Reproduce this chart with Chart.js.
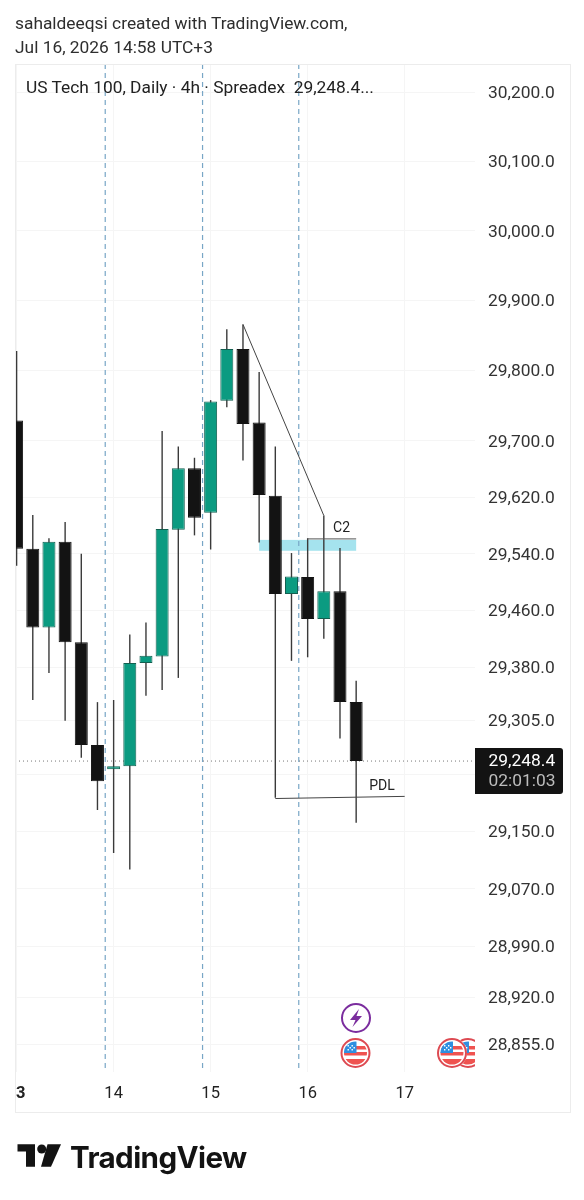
<!DOCTYPE html>
<html>
<head>
<meta charset="utf-8">
<title>US Tech 100</title>
<script src="https://cdn.jsdelivr.net/npm/chart.js@4/dist/chart.umd.min.js"></script>
<style>
  html, body { margin: 0; padding: 0; background: #fff; }
  #page { position: relative; width: 584px; height: 1200px; overflow: hidden; font-family: Roboto, sans-serif; }
  canvas { position: absolute; left: 0; top: 0; }
  .txt { position: absolute; white-space: pre; color: #2e2e2e; font-size: 17.35px; line-height: 20px; }
  #brand { position: absolute; left: 70px; top: 1139px; font-family: Inter, sans-serif; font-weight: 700; font-size: 29.6px; line-height: 36px; color: #131313; letter-spacing: -0.6px; }
  svg { position: absolute; left: 0; top: 0; }
</style>
</head>
<body>
<div id="page">
  <canvas id="chart" width="584" height="1200"></canvas>
  <div class="txt" style="left:15px;top:13px">sahaldeeqsi created with TradingView.com,</div>
  <div class="txt" style="left:15px;top:37px">Jul 16, 2026 14:58 UTC+3</div>
  <div class="txt" style="left:26px;top:77px;color:#222">US Tech 100, Daily · 4h · Spreadex  29,248.4...</div>
  <svg width="584" height="1200">
    <defs>
      <clipPath id="pane"><rect x="15" y="64" width="460" height="1008"/></clipPath>
      <clipPath id="disc"><circle cx="0" cy="0" r="11.5"/></clipPath>
      <g id="flag">
        <circle r="15" fill="#fff"/>
        <circle r="14" fill="none" stroke="#dd4a52" stroke-width="2"/>
        <g clip-path="url(#disc)">
          <rect x="-12" y="-12" width="24" height="24" fill="#fff"/>
          <rect x="-12" y="-7" width="24" height="3.5" fill="#ef5350"/>
          <rect x="-12" y="-1" width="24" height="3.5" fill="#ef5350"/>
          <rect x="-12" y="6" width="24" height="6" fill="#ef5350"/>
          <rect x="-12" y="-12" width="13" height="12" fill="#2f8fe0"/>
          <path d="M-8 -8h1.4v1.4h-1.4zM-4 -8h1.4v1.4h-1.4zM-8 -4h1.4v1.4h-1.4zM-4 -4h1.4v1.4h-1.4zM-6 -6h1.4v1.4h-1.4zM-2 -6h1.4v1.4h-1.4z" fill="#fff"/>
        </g>
      </g>
    </defs>
    <circle cx="356" cy="1018" r="14" fill="#fff" stroke="#7b2d9e" stroke-width="2"/>
    <path d="M359 1009 L350 1020 L355.5 1020 L352.5 1027 L362 1016 L356.5 1016 Z" fill="#7b2d9e"/>
    <g clip-path="url(#pane)">
      <use href="#flag" x="355.5" y="1053"/>
      <use href="#flag" x="468" y="1053"/>
      <use href="#flag" x="452" y="1053"/>
    </g>
    <!-- logo -->
    <path d="M17.5 1144.3 H35 V1166.7 H26 V1151.5 H17.5 Z" fill="#131313"/>
    <circle cx="41.7" cy="1149" r="4.5" fill="#131313"/>
    <path d="M47.5 1144.3 H61 L51 1166.7 H41 Z" fill="#131313"/>
  </svg>
  <div id="brand">TradingView</div>
</div>
<script>
// 4h candles
const opens  = [29729, 29547, 29436, 29557, 29415, 29271, 29237, 29241, 29386, 29395, 29574, 29661, 29598, 29757, 29831, 29726, 29622, 29483, 29507, 29448, 29487, 29331];
const highs  = [29828, 29595, 29562, 29585, 29540, 29331, 29334, 29426, 29443, 29714, 29692, 29676, 29758, 29859, 29866, 29798, 29692, 29541, 29562, 29594, 29548, 29361];
const lows   = [29523, 29334, 29372, 29305, 29253, 29180, 29120, 29097, 29340, 29348, 29365, 29566, 29546, 29748, 29672, 29556, 29197, 29389, 29394, 29420, 29280, 29162];
const closes = [29547, 29436, 29557, 29415, 29271, 29220, 29241, 29386, 29396, 29575, 29661, 29591, 29756, 29831, 29724, 29623, 29483, 29508, 29448, 29487, 29331, 29248.4];

const priceTicks = [30200, 30100, 30000, 29900, 29800, 29700, 29620, 29540, 29460, 29380, 29305, 29230, 29150, 29070, 28990, 28920, 28855];
const hiddenPriceTick = 29230; // sits under the last price tag
const dayTicks = [0, 6, 12, 18, 24];
const dayLabels = ['  3', '14', '15', '16', '17'];
const sessionBreaks = [5.48, 11.5, 17.45];

const lastPrice = 29248.4;
const countdown = '02:01:03';

// Drawings on the chart (bar index / price)
const trendLine = [{ x: 14, y: 29866 }, { x: 19, y: 29594 }];
const c2Line = [{ x: 18, y: 29561 }, { x: 21, y: 29561 }];
const pdlLine = [{ x: 16, y: 29196 }, { x: 24, y: 29199 }];
const zoneX = [15, 21];
const zonePrice = [29559.6, 29544.2];

const xMin = -0.1, xMax = 28.35;
const yMin = 28816.4, yMax = 30240.5;

const GREEN = '#0b9b81', GREEN_EDGE = '#125f50', BLACK = '#131313';

const candleIdx = opens.map((_, i) => i);
const upIdx = candleIdx.filter(i => closes[i] >= opens[i]);
const downIdx = candleIdx.filter(i => closes[i] < opens[i]);

const lineSet = (data, extra) => Object.assign({
    type: 'line', data: data, borderColor: '#444', borderWidth: 1,
    pointRadius: 0, tension: 0, order: 1
}, extra);

// Zone, frame and text labels the library has no element for
const decorations = {
    id: 'decorations',
    beforeDatasetsDraw(chart) {
        const { ctx, scales: { x, y } } = chart;
        ctx.save();
        ctx.fillStyle = '#a5e3ee';
        const left = x.getPixelForValue(zoneX[0]), right = x.getPixelForValue(zoneX[1]);
        const top = y.getPixelForValue(zonePrice[0]), bottom = y.getPixelForValue(zonePrice[1]);
        ctx.fillRect(left, top, right - left, bottom - top);
        ctx.restore();
    },
    afterDraw(chart) {
        const { ctx, chartArea, scales: { x, y } } = chart;
        ctx.save();
        // frame
        ctx.strokeStyle = '#ececec';
        ctx.lineWidth = 1;
        ctx.strokeRect(15.5, 64.5, 555, 1048);

        // drawing labels
        ctx.fillStyle = '#222';
        ctx.font = '14px Roboto';
        ctx.textAlign = 'center';
        ctx.textBaseline = 'middle';
        ctx.fillText('C2', x.getPixelForValue(20.1), y.getPixelForValue(29576));
        ctx.fillText('PDL', x.getPixelForValue(22.6), y.getPixelForValue(29213));

        // last price tag
        const py = y.getPixelForValue(lastPrice);
        ctx.fillStyle = BLACK;
        ctx.beginPath();
        ctx.roundRect(chartArea.right, py - 13, 88, 46, [0, 3, 3, 0]);
        ctx.fill();
        ctx.font = '17.4px Roboto';
        ctx.textAlign = 'left';
        ctx.fillStyle = '#fff';
        ctx.fillText(lastPrice.toLocaleString('en-US', { minimumFractionDigits: 1 }), chartArea.right + 13.5, py + 1);
        ctx.fillStyle = '#bdbdbd';
        ctx.fillText(countdown, chartArea.right + 13.5, py + 21);
        ctx.restore();
    }
};

new Chart(document.getElementById('chart'), {
    type: 'bar',
    data: {
        datasets: [
            lineSet(trendLine, {}),
            lineSet(c2Line, { borderColor: '#555' }),
            lineSet(pdlLine, {}),
            {
                data: upIdx.map(i => ({ x: i, y: [opens[i], closes[i]] })),
                backgroundColor: GREEN, borderColor: GREEN_EDGE, borderWidth: 1,
                borderSkipped: false, barThickness: 13, order: 2
            },
            {
                data: downIdx.map(i => ({ x: i, y: [opens[i], closes[i]] })),
                backgroundColor: BLACK, borderColor: BLACK, borderWidth: 1,
                borderSkipped: false, barThickness: 13, order: 2
            },
            {
                data: candleIdx.map(i => ({ x: i, y: [lows[i], highs[i]] })),
                backgroundColor: '#3a3a3a', barThickness: 1.4, order: 3
            },
            lineSet([{ x: xMin, y: lastPrice }, { x: xMax, y: lastPrice }], { borderColor: '#777', borderDash: [1, 3], order: 4 }),
            ...sessionBreaks.map(b => lineSet([{ x: b, y: yMax }, { x: b, y: yMin }], {
                borderColor: '#78a6c6', borderWidth: 1.2, borderDash: [5, 4], order: 5
            }))
        ]
    },
    options: {
        responsive: false,
        animation: false,
        datasets: { bar: { grouped: false, inflateAmount: 0 } },
        layout: { padding: { left: 15, right: 14, top: 64, bottom: 88 } },
        plugins: { legend: { display: false }, tooltip: { enabled: false } },
        scales: {
            x: {
                type: 'linear', position: 'bottom', min: xMin, max: xMax, bounds: 'data', offset: false,
                afterBuildTicks: s => { s.ticks = dayTicks.map(v => ({ value: v })); },
                afterFit: s => { s.height = 40; s.paddingLeft = 0; s.paddingRight = 0; },
                grid: { color: '#f5f5f5', offset: false, drawTicks: false },
                border: { display: false },
                ticks: {
                    autoSkip: false, maxRotation: 0, padding: 12, color: '#222',
                    font: ctx => ({ family: 'Roboto', size: 16.5, weight: ctx.index === 0 ? 'bold' : 'normal' }),
                    callback: (v, i) => dayLabels[i]
                }
            },
            y: {
                type: 'logarithmic', position: 'right', min: yMin, max: yMax, bounds: 'data',
                afterBuildTicks: s => { s.ticks = priceTicks.map(v => ({ value: v })); },
                afterFit: s => { s.width = 95; s.paddingTop = 0; s.paddingBottom = 0; },
                grid: { color: '#f5f5f5', drawTicks: false },
                border: { display: false },
                ticks: {
                    autoSkip: false, padding: 13, color: '#333', labelOffset: 1.5,
                    font: { family: 'Roboto', size: 17.4 },
                    callback: v => v === hiddenPriceTick ? '' : v.toLocaleString('en-US', { minimumFractionDigits: 1 })
                }
            }
        }
    },
    plugins: [decorations]
});
</script>
</body>
</html>
